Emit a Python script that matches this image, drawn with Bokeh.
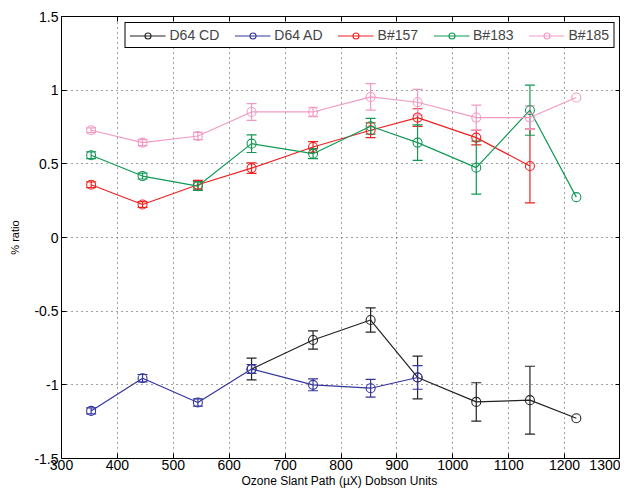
from bokeh.plotting import figure
from bokeh.models import (ColumnDataSource, Whisker, TeeHead, LinearAxis, FixedTicker,
                          Legend, LegendItem, Range1d)
from bokeh.embed import file_html
from bokeh.resources import INLINE

# ---- data ----
series_names = ["D64 CD", "D64 AD", "B#157", "B#183", "B#185"]
x_cd = [640, 750, 853, 937, 1042, 1138, 1221]
y_cd = [-0.893, -0.696, -0.560, -0.950, -1.116, -1.104, -1.227]
e_cd = [0.074, 0.062, 0.082, 0.145, 0.13, 0.23, 0.0]

x_ad = [353, 445, 544, 640, 750, 853, 937]
y_ad = [-1.177, -0.955, -1.12, -0.893, -1.0, -1.023, -0.950]
e_ad = [0.02, 0.025, 0.025, 0.03, 0.04, 0.06, 0.08]

x_157 = [353, 445, 544, 640, 750, 853, 937, 1042, 1138]
y_157 = [0.358, 0.224, 0.358, 0.471, 0.614, 0.728, 0.814, 0.678, 0.485]
e_157 = [0.02, 0.02, 0.03, 0.036, 0.037, 0.05, 0.06, 0.05, 0.25]

x_183 = [353, 445, 544, 640, 750, 853, 937, 1042, 1138, 1221]
y_183 = [0.558, 0.417, 0.349, 0.637, 0.569, 0.755, 0.644, 0.474, 0.864, 0.274]
e_183 = [0.023, 0.02, 0.03, 0.06, 0.034, 0.053, 0.12, 0.18, 0.17, 0.0]

x_185 = [353, 445, 544, 640, 750, 853, 937, 1042, 1138, 1221]
y_185 = [0.728, 0.644, 0.689, 0.852, 0.852, 0.954, 0.918, 0.814, 0.814, 0.950]
e_185 = [0.016, 0.02, 0.025, 0.057, 0.032, 0.09, 0.087, 0.085, 0.08, 0.0]

colors = ["#222222", "#3535a0", "#ee2222", "#119955", "#f29ac4"]

x_ticks = [300, 400, 500, 600, 700, 800, 900, 1000, 1100, 1200, 1300]
y_ticks = [-1.5, -1, -0.5, 0, 0.5, 1, 1.5]
y_tick_labels = ["-1.5", "-1", "-0.5", "0", "0.5", "1", "1.5"]

FONT = "Liberation Sans"

p = figure(width=620, height=490, output_backend="svg", toolbar_location=None,
           x_range=Range1d(300, 1300), y_range=Range1d(-1.5, 1.5))
p.min_border_left = 61
p.min_border_top = 16
p.min_border_right = 0
p.min_border_bottom = 32
p.outline_line_color = "black"
p.outline_line_width = 1
p.outline_line_alpha = 1

p.xaxis.ticker = FixedTicker(ticks=x_ticks)
p.yaxis.ticker = FixedTicker(ticks=y_ticks)
p.yaxis.major_label_overrides = {t: l for t, l in zip(y_ticks, y_tick_labels)}
p.xaxis.axis_label = "Ozone Slant Path (\u00b5X)  Dobson Units"
p.yaxis.axis_label = "% ratio"
for ax in (p.xaxis[0], p.yaxis[0]):
    ax.major_tick_in = 5
    ax.major_tick_out = 0
    ax.minor_tick_in = 0
    ax.minor_tick_out = 0
    ax.axis_line_color = "black"
    ax.major_tick_line_color = "black"
    ax.major_label_text_font = FONT
    ax.major_label_text_font_size = "14px"
    ax.major_label_text_color = "black"
    ax.axis_label_text_font = FONT
    ax.axis_label_text_font_size = "12px"
    ax.axis_label_text_font_style = "normal"
    ax.axis_label_text_color = "black"
    ax.major_label_standoff = 1
p.xaxis.axis_label_standoff = 1
p.yaxis.axis_label_standoff = 10
p.yaxis.major_label_standoff = 3
p.yaxis.axis_label_text_font_size = "11px"

for loc, tk in (("above", x_ticks), ("right", y_ticks)):
    ax = LinearAxis(ticker=FixedTicker(ticks=tk),
                    major_label_overrides={t: "" for t in tk},
                    major_tick_in=5, major_tick_out=0, minor_tick_in=0, minor_tick_out=0,
                    axis_line_color="black", major_label_standoff=0)
    p.add_layout(ax, loc)

for g in (p.xgrid[0], p.ygrid[0]):
    g.grid_line_color = "#444444"
    g.grid_line_dash = "1 4"
    g.grid_line_width = 1
p.xgrid.ticker = FixedTicker(ticks=x_ticks)
p.ygrid.ticker = FixedTicker(ticks=y_ticks)

data = [(x_cd, y_cd, e_cd), (x_ad, y_ad, e_ad), (x_157, y_157, e_157),
        (x_183, y_183, e_183), (x_185, y_185, e_185)]

items = []
for name, (xs, ys, es), c in zip(series_names, data, colors):
    src = ColumnDataSource(dict(x=xs, y=ys))
    l = p.line("x", "y", source=src, line_color=c, line_width=1.2)
    s = p.scatter("x", "y", source=src, marker="circle", size=9, fill_color=None,
                  line_color=c, line_width=1.1)
    ex = [xv for xv, ev in zip(xs, es) if ev > 0]
    lo = [yv - ev for yv, ev in zip(ys, es) if ev > 0]
    hi = [yv + ev for yv, ev in zip(ys, es) if ev > 0]
    esrc = ColumnDataSource(dict(x=ex, lo=lo, hi=hi))
    w = Whisker(base="x", lower="lo", upper="hi", source=esrc, dimension="height",
                line_color=c, line_width=1.2,
                upper_head=TeeHead(size=10, line_color=c, line_width=1.2),
                lower_head=TeeHead(size=10, line_color=c, line_width=1.2))
    p.add_layout(w)
    items.append(LegendItem(label=name, renderers=[l, s]))

legend = Legend(items=items, orientation="horizontal", location="top_right",
                border_line_color="black", border_line_width=1, border_line_alpha=1,
                background_fill_color="white", background_fill_alpha=1,
                label_text_font=FONT, label_text_font_size="14px",
                glyph_width=36, glyph_height=15, label_standoff=4, spacing=15,
                padding=4, margin=6, label_height=15)
p.add_layout(legend)

open("out.html", "w").write(file_html(p, INLINE))
